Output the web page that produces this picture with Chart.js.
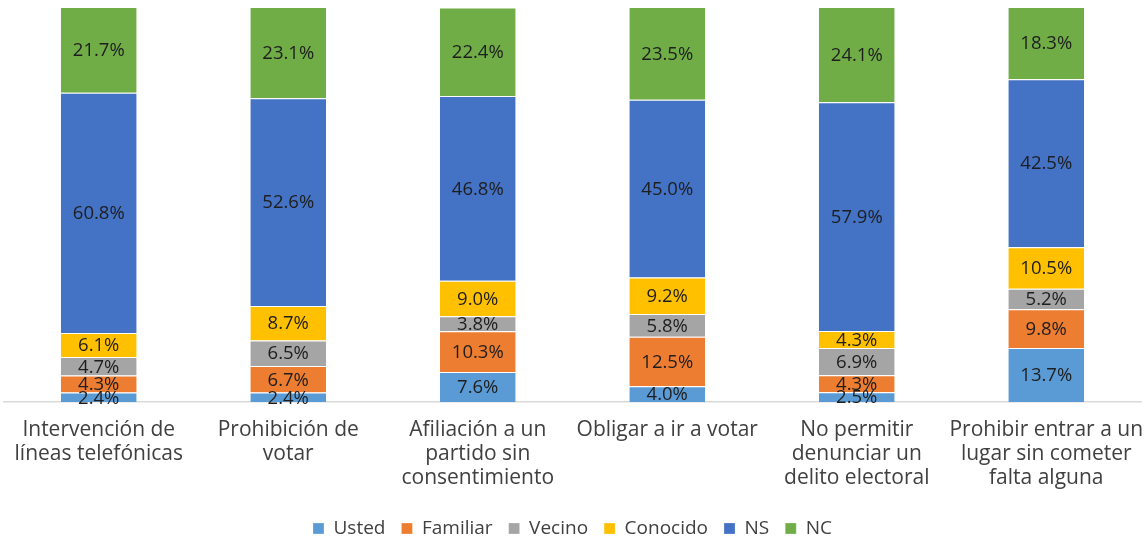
<!DOCTYPE html>
<html>
<head>
<meta charset="utf-8">
<script src="https://cdn.jsdelivr.net/npm/chart.js@4"></script>
<style>
  html, body { margin: 0; padding: 0; background: #fff; overflow: hidden; }
  canvas { display: block; }
</style>
</head>
<body>
<canvas id="myChart" width="1145" height="542"></canvas>
<script>
const categories = [
  ['Intervención de', 'líneas telefónicas'],
  ['Prohibición de', 'votar'],
  ['Afiliación a un', 'partido sin', 'consentimiento'],
  ['Obligar a ir a votar'],
  ['No permitir', 'denunciar un', 'delito electoral'],
  ['Prohibir entrar a un', 'lugar sin cometer', 'falta alguna']
];
const usted    = [2.4, 2.4, 7.6, 4.0, 2.5, 13.7];
const familiar = [4.3, 6.7, 10.3, 12.5, 4.3, 9.8];
const vecino   = [4.7, 6.5, 3.8, 5.8, 6.9, 5.2];
const conocido = [6.1, 8.7, 9.0, 9.2, 4.3, 10.5];
const ns       = [60.8, 52.6, 46.8, 45.0, 57.9, 42.5];
const nc       = [21.7, 23.1, 22.4, 23.5, 24.1, 18.3];

const FONT = '"Open Sans", Lato, sans-serif';

function ds(label, data, color) {
  return {
    label: label,
    data: data,
    backgroundColor: color,
    borderColor: '#ffffff',
    borderWidth: {top: 1, bottom: 0, left: 0, right: 0},
    borderSkipped: false,
    categoryPercentage: 1,
    barPercentage: 0.4
  };
}

// percentage labels in the middle of each segment
const valueLabels = {
  id: 'valueLabels',
  afterDatasetsDraw(chart) {
    const ctx = chart.ctx;
    ctx.save();
    ctx.font = '18.5px ' + FONT;
    ctx.fillStyle = '#1e1e1e';
    ctx.textAlign = 'center';
    ctx.textBaseline = 'middle';
    chart.data.datasets.forEach((d, i) => {
      chart.getDatasetMeta(i).data.forEach((el, j) => {
        const y = (el.y + el.base) / 2;
        ctx.fillText(d.data[j].toFixed(1) + '%', el.x, y + 1);
      });
    });
    ctx.restore();
  }
};

new Chart('myChart', {
  type: 'bar',
  data: {
    labels: categories,
    datasets: [
      ds('Usted', usted, '#5B9BD5'),
      ds('Familiar', familiar, '#ED7D31'),
      ds('Vecino', vecino, '#A5A5A5'),
      ds('Conocido', conocido, '#FFC000'),
      ds('NS', ns, '#4472C4'),
      ds('NC', nc, '#70AD47')
    ]
  },
  options: {
    responsive: false,
    animation: false,
    layout: {padding: {top: 7, left: 4, right: 4, bottom: -6}},
    scales: {
      x: {
        stacked: true,
        grid: {display: false, drawTicks: false},
        border: {display: true, color: '#d9d9d9', width: 1.5},
        ticks: {
          color: '#404040',
          font: {family: FONT, size: 21, lineHeight: 1.14},
          padding: 16,
          maxRotation: 0,
          autoSkip: false
        },
        afterFit(scale) {
          scale.height = 101;
          scale.paddingLeft = 0;
          scale.paddingRight = 0;
        }
      },
      y: {
        stacked: true,
        display: false,
        min: 0,
        max: 100
      }
    },
    plugins: {
      legend: {
        position: 'bottom',
        labels: {
          color: '#404040',
          font: {family: FONT, size: 19},
          boxWidth: 11,
          boxHeight: 11,
          padding: 16
        }
      },
      tooltip: {enabled: false}
    }
  },
  plugins: [valueLabels]
});
</script>
</body>
</html>
